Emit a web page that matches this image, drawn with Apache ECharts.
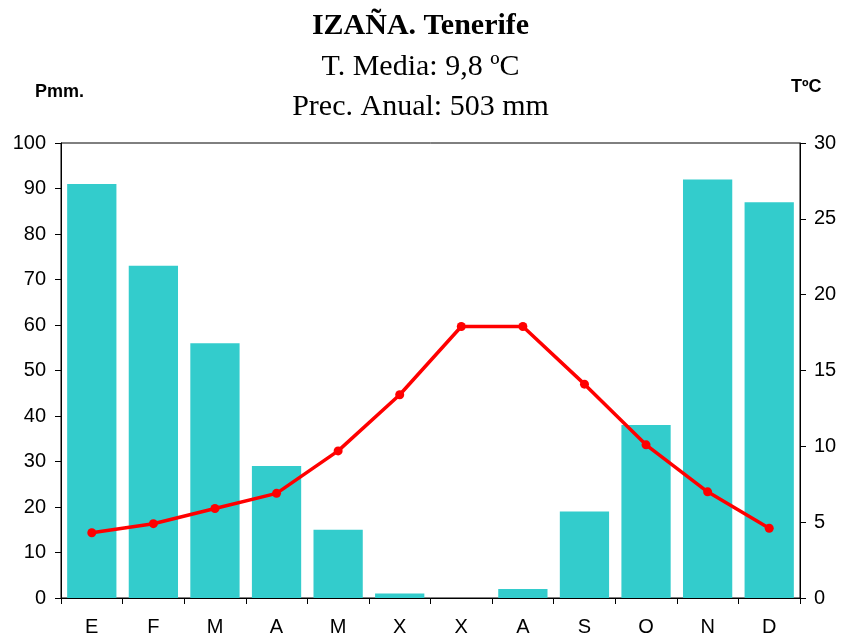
<!DOCTYPE html>
<html>
<head>
<meta charset="utf-8">
<script src="https://cdn.jsdelivr.net/npm/echarts@6/dist/echarts.min.js"></script>
<style>html,body{margin:0;padding:0;background:#fff}#c{width:841px;height:639px}</style>
</head>
<body>
<div id="c"></div>
<script>
var months = ['E','F','M','A','M','X','X','A','S','O','N','D'];
var precip = [91, 73, 56, 29, 15, 1, 0, 2, 19, 38, 92, 87];
var temp = [4.3, 4.9, 5.9, 6.9, 9.7, 13.4, 17.9, 17.9, 14.1, 10.1, 7.0, 4.6];
var titleText = 'IZAÑA. Tenerife';
var sub1 = 'T. Media: 9,8 ºC';
var sub2 = 'Prec. Anual: 503 mm';

var chart = echarts.init(document.getElementById('c'), null, {renderer: 'canvas'});
var serif = '"Liberation Serif", "DejaVu Serif", serif';
var sans = '"Liberation Sans", Arial, sans-serif';
chart.setOption({
  animation: false,
  backgroundColor: '#fff',
  title: [
    {text: titleText, left: 'center', top: 6, textStyle: {fontFamily: serif, fontWeight: 'bold', fontSize: 30, color: '#000'}},
    {text: sub1, left: 'center', top: 47, textStyle: {fontFamily: serif, fontWeight: 'normal', fontSize: 30, color: '#000'}},
    {text: sub2, left: 'center', top: 87, textStyle: {fontFamily: serif, fontWeight: 'normal', fontSize: 30, color: '#000'}},
    {text: 'Pmm.', left: 30, top: 78, textStyle: {fontFamily: sans, fontWeight: 'bold', fontSize: 18, color: '#000'}},
    {text: 'TºC', left: 786, top: 73, textStyle: {fontFamily: sans, fontWeight: 'bold', fontSize: 18, color: '#000'}}
  ],
  grid: {left: 61, right: 41, top: 143, bottom: 41, show: true, borderColor: '#000', borderWidth: 1},
  xAxis: {
    type: 'category', data: months,
    axisLine: {lineStyle: {color: '#000', width: 1}},
    axisTick: {show: true, length: 6, lineStyle: {color: '#000'}},
    axisLabel: {fontFamily: sans, fontSize: 20, color: '#000', margin: 19}
  },
  yAxis: [
    {type: 'value', min: 0, max: 100, interval: 10, position: 'left',
     axisLine: {show: true, lineStyle: {color: '#000'}},
     axisTick: {show: true, length: 6, lineStyle: {color: '#000'}},
     splitLine: {show: false},
     axisLabel: {fontFamily: sans, fontSize: 20, color: '#000', margin: 15}},
    {type: 'value', min: 0, max: 30, interval: 5, position: 'right',
     axisLine: {show: true, lineStyle: {color: '#000'}},
     axisTick: {show: true, length: 6, lineStyle: {color: '#000'}},
     splitLine: {show: false},
     axisLabel: {fontFamily: sans, fontSize: 20, color: '#000', margin: 14}}
  ],
  series: [
    {type: 'bar', data: precip, yAxisIndex: 0, barCategoryGap: '20%', itemStyle: {color: '#33CCCC'}},
    {type: 'line', data: temp, yAxisIndex: 1, symbol: 'circle', symbolSize: 9,
     lineStyle: {color: '#FF0000', width: 3.5}, itemStyle: {color: '#FF0000'}, z: 5}
  ]
});
</script>
</body>
</html>
